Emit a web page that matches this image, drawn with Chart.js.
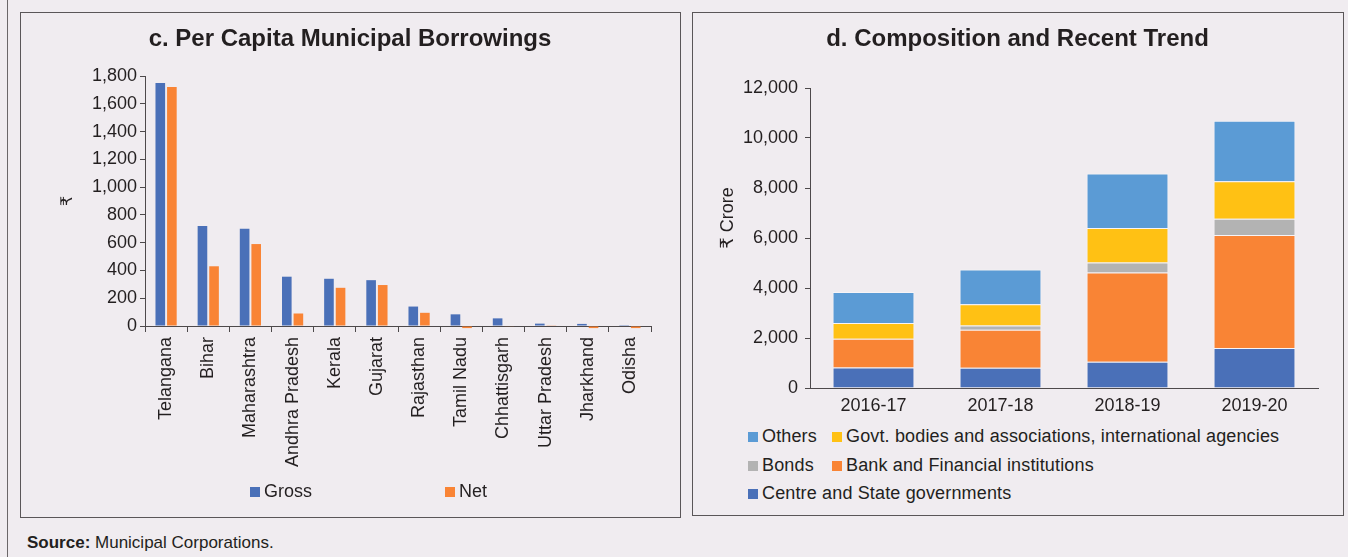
<!DOCTYPE html>
<html>
<head>
<meta charset="utf-8">
<script src="https://cdn.jsdelivr.net/npm/chart.js@4.4.1/dist/chart.umd.min.js"></script>
<style>
    body {
        margin: 0;
        width: 1348px;
        height: 557px;
        overflow: hidden;
        position: relative;
        background: #f0ecf0;
        color: #231f20;
        font-family: "Liberation Sans", Arial, "DejaVu Sans", sans-serif;
    }
    .frame {
        position: absolute;
        left: 7px;
        top: 0;
        height: 557px;
        border-left: 1px solid #6b6769;
    }
    .panel {
        position: absolute;
        box-sizing: border-box;
        border: 1px solid #5a5658;
    }
    #panelC { left: 20px; top: 12px; width: 661px; height: 506px; }
    #panelD { left: 692px; top: 12px; width: 652px; height: 504px; }
    .chartBox { position: absolute; left: 0; top: 0; }
    .legend {
        position: absolute;
        display: flex;
        flex-wrap: wrap;
        font-size: 18px;
        line-height: 28.5px;
    }
    .legend .item { display: flex; align-items: center; white-space: nowrap; }
    .legend .swatch { width: 10px; height: 10px; margin-right: 4px; margin-top: 2px; }
    #legendC { left: 229px; top: 464px; }
    #legendC .item { width: 195px; }
    #legendD { left: 55px; top: 409px; width: 560px; }
    #legendD .item { min-width: 84px; }
    #legendD .item span:last-child { letter-spacing: 0.15px; }
    .source {
        position: absolute;
        left: 27px;
        top: 533px;
        font-size: 17px;
        line-height: 20px;
    }
</style>
</head>
<body>
<div class="frame"></div>
<div class="panel" id="panelC">
    <div class="chartBox" style="width:658px;height:470px;"><canvas id="capitaChart"></canvas></div>
    <div class="legend" id="legendC"></div>
</div>
<div class="panel" id="panelD">
    <div class="chartBox" style="width:649px;height:400px;"><canvas id="trendChart"></canvas></div>
    <div class="legend" id="legendD"></div>
</div>
<div class="source"><b>Source:</b> Municipal Corporations.</div>

<script>
// c. Per capita municipal borrowings (₹)
const states = ['Telangana', 'Bihar', 'Maharashtra', 'Andhra Pradesh', 'Kerala', 'Gujarat',
    'Rajasthan', 'Tamil Nadu', 'Chhattisgarh', 'Uttar Pradesh', 'Jharkhand', 'Odisha'];
const grossValues = [1750, 720, 700, 355, 340, 330, 140, 84, 55, 17, 15, 1];
const netValues = [1720, 430, 590, 90, 275, 295, 95, -15, -3, 5, -15, -15];
const capitaTicks = { min: 0, max: 1800, step: 200 };

// d. Composition and recent trend (₹ crore)
const years = ['2016-17', '2017-18', '2018-19', '2019-20'];
const centreState = [825, 810, 1050, 1600];
const bankFinancial = [1150, 1520, 3575, 4520];
const bonds = [0, 175, 400, 650];
const govtBodies = [625, 850, 1375, 1505];
const others = [1240, 1390, 2185, 2415];
const trendTicks = { min: 0, max: 12000, step: 2000 };

const BLUE = '#4a70b8';
const ORANGE = '#f98435';
const GREY = '#b3b3b3';
const YELLOW = '#ffc114';
const LIGHT_BLUE = '#5b9bd5';
const TEXT = '#231f20';
const AXIS = '#4d494b';
const EDGE = 'rgba(255, 255, 255, 0.45)';

Chart.defaults.font.family = '"Liberation Sans", Arial, "DejaVu Sans", "Noto Sans", sans-serif';
Chart.defaults.color = TEXT;
Chart.defaults.animation = false;

function fmt(value) {
    return Number(value).toLocaleString('en-US');
}

function buildLegend(chart, containerId, reverse) {
    const box = document.getElementById(containerId);
    let sets = chart.data.datasets.slice();
    if (reverse) sets.reverse();
    sets.forEach(ds => {
        const item = document.createElement('div');
        item.className = 'item';
        const sw = document.createElement('span');
        sw.className = 'swatch';
        sw.style.background = ds.backgroundColor;
        const txt = document.createElement('span');
        txt.textContent = ds.label;
        item.appendChild(sw);
        item.appendChild(txt);
        box.appendChild(item);
    });
}

const capitaChart = new Chart(document.getElementById('capitaChart').getContext('2d'), {
    type: 'bar',
    data: {
        labels: states,
        datasets: [{
            label: 'Gross',
            data: grossValues,
            backgroundColor: BLUE,
            borderWidth: 0,
            clip: false
        }, {
            label: 'Net',
            data: netValues,
            backgroundColor: ORANGE,
            borderWidth: 0,
            clip: false
        }]
    },
    options: {
        responsive: true,
        maintainAspectRatio: false,
        categoryPercentage: 0.55,
        barPercentage: 0.83,
        // equal side padding keeps the title centred on the panel
        layout: { padding: { left: 28, right: 28, top: 0, bottom: 0 } },
        plugins: {
            legend: { display: false },
            tooltip: { enabled: false },
            title: {
                display: true,
                text: 'c. Per Capita Municipal Borrowings',
                color: TEXT,
                font: { size: 24, weight: 'bold' },
                padding: { top: 12, bottom: 22.2 }
            }
        },
        scales: {
            x: {
                grid: { display: true, drawOnChartArea: false, drawTicks: true, tickLength: 6, color: AXIS, offset: true },
                border: { display: true, color: AXIS, width: 1 },
                ticks: { color: TEXT, font: { size: 18 }, minRotation: 90, maxRotation: 90, autoSkip: false, padding: 5 },
                afterFit: function(scale) { scale.height = 157; }
            },
            y: {
                min: capitaTicks.min,
                max: capitaTicks.max,
                grid: { display: true, drawOnChartArea: false, drawTicks: true, tickLength: 5, color: AXIS },
                border: { display: true, color: AXIS, width: 1 },
                ticks: {
                    stepSize: capitaTicks.step,
                    color: TEXT,
                    font: { size: 18 },
                    padding: 3,
                    callback: fmt
                },
                title: { display: true, text: '₹', color: TEXT, font: { size: 16 }, padding: { top: 9, bottom: 0 } },
                afterFit: function(scale) { scale.width = 96; }
            }
        }
    }
});

const trendChart = new Chart(document.getElementById('trendChart').getContext('2d'), {
    type: 'bar',
    data: {
        labels: years,
        datasets: [{
            label: 'Centre and State governments',
            data: centreState,
            backgroundColor: BLUE
        }, {
            label: 'Bank and Financial institutions',
            data: bankFinancial,
            backgroundColor: ORANGE
        }, {
            label: 'Bonds',
            data: bonds,
            backgroundColor: GREY
        }, {
            label: 'Govt. bodies and associations, international agencies',
            data: govtBodies,
            backgroundColor: YELLOW
        }, {
            label: 'Others',
            data: others,
            backgroundColor: LIGHT_BLUE
        }].map(ds => Object.assign(ds, { borderColor: EDGE, borderWidth: 1 }))
    },
    options: {
        responsive: true,
        maintainAspectRatio: false,
        categoryPercentage: 1,
        barPercentage: 0.645,
        layout: { padding: { left: 24, right: 24, top: 0, bottom: 0 } },
        plugins: {
            legend: { display: false },
            tooltip: { enabled: false },
            title: {
                display: true,
                text: 'd. Composition and Recent Trend',
                color: TEXT,
                font: { size: 24, weight: 'bold' },
                padding: { top: 12, bottom: 34.2 }
            }
        },
        scales: {
            x: {
                stacked: true,
                grid: { display: true, drawOnChartArea: false, drawTicks: false, color: AXIS },
                border: { display: true, color: AXIS, width: 1 },
                ticks: { color: TEXT, font: { size: 18 }, padding: 7 },
                afterFit: function(scale) { scale.height = 25; }
            },
            y: {
                stacked: true,
                min: trendTicks.min,
                max: trendTicks.max,
                grid: { display: true, drawOnChartArea: false, drawTicks: true, tickLength: 5, color: AXIS },
                border: { display: true, color: AXIS, width: 1 },
                ticks: {
                    stepSize: trendTicks.step,
                    color: TEXT,
                    font: { size: 18 },
                    padding: 7,
                    callback: fmt
                },
                title: {
                    display: true,
                    // leading spaces lift the rotated label a little, as in the source chart
                    text: '\u00a0'.repeat(8) + '₹ Crore',
                    color: TEXT,
                    font: { size: 18 },
                    padding: { top: 0, bottom: 0 }
                },
                afterFit: function(scale) { scale.width = 93; }
            }
        }
    }
});

buildLegend(capitaChart, 'legendC', false);
buildLegend(trendChart, 'legendD', true);
</script>
</body>
</html>
